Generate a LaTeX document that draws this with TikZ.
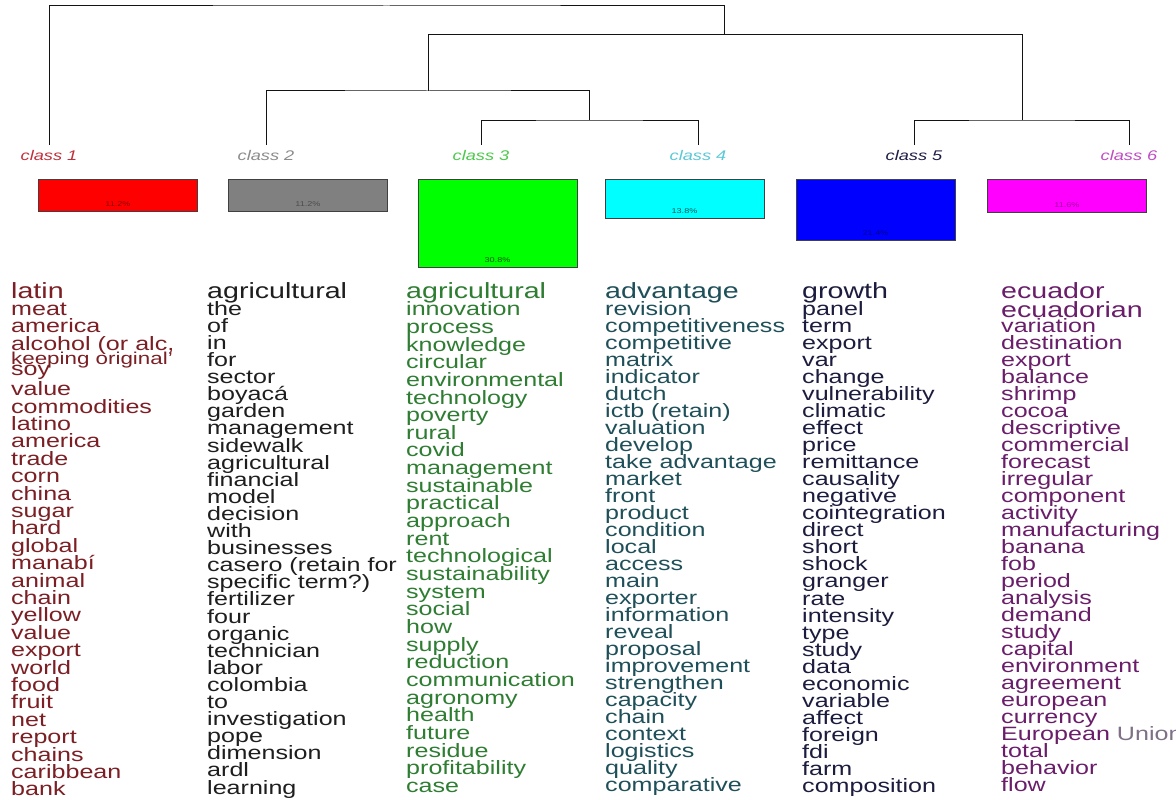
\documentclass[tikz,border=0pt]{standalone}
\usepackage{fontspec}
\setmainfont{Liberation Sans}[FakeStretch=1.3]
\usetikzlibrary{positioning}

\definecolor{lone}{HTML}{C0303C}
\definecolor{ltwo}{HTML}{8C8C8C}
\definecolor{lthree}{HTML}{4CC94C}
\definecolor{lfour}{HTML}{5BC8D8}
\definecolor{lfive}{HTML}{1E1E46}
\definecolor{lsix}{HTML}{C04CC4}
\definecolor{wone}{HTML}{7B1F24}
\definecolor{wtwo}{HTML}{1E1E1E}
\definecolor{wthree}{HTML}{2E7D32}
\definecolor{wfour}{HTML}{1F5059}
\definecolor{wfive}{HTML}{1C1C3E}
\definecolor{wsix}{HTML}{6A1E6A}
\definecolor{union}{HTML}{7F7087}
\definecolor{barred}{HTML}{FF0000}
\definecolor{bargray}{HTML}{808080}
\definecolor{barlime}{HTML}{00FF00}
\definecolor{barcyan}{HTML}{00FFFF}
\definecolor{barblue}{HTML}{0000FF}
\definecolor{barpink}{HTML}{FF00FF}

\newcommand{\wordfont}[1]{\fontsize{19.3}{#1}\selectfont\lineskiplimit=-\maxdimen}
\newcommand{\headword}[1]{{\fontsize{22}{17}\selectfont #1}}

\tikzset{
  cls/.style={anchor=base, font=\fontsize{14}{16}\selectfont\itshape, text=#1, inner sep=2pt, outer sep=3pt},
  bar/.style={draw=black!75, line width=1pt, fill=#1, minimum width=159pt, anchor=north, inner sep=0pt},
  pct/.style={font=\fontsize{7}{8}\selectfont, inner sep=0pt, text=#1},
  words/.style={anchor=north west, align=left, inner sep=0pt, text=#1},
  tree/.style={line width=1pt, gray!15!black}
}

\begin{document}
\begin{tikzpicture}[x=1pt,y=-1pt]
  \useasboundingbox (0,0) rectangle (1176,800);
  \fill[white] (0,0) rectangle (1176,800);

  % classes
  \node[cls=lone] (c1) at (49,160) {class 1};
  \node[cls=ltwo] (c2) at (266,160) {class 2};
  \node[cls=lthree] (c3) at (481,160) {class 3};
  \node[cls=lfour] (c4) at (698,160) {class 4};
  \node[cls=lfive] (c5) at (914,160) {class 5};
  \node[cls=lsix] (c6) at (1129,160) {class 6};

  \coordinate (j34) at (589,120);
  \coordinate (j56) at (1022,120);
  \coordinate (j234) at (428,91);
  \coordinate (j26) at (724,34.5);
  \coordinate (root) at (386.5,6);

  \begin{scope}[tree]
    \draw (c3.north) |- (j34) -| (c4.north);
    \draw (c5.north) |- (j56) -| (c6.north);
    \draw (c2.north) |- (j234) -| (j34);
    \draw (j234) |- (j26) -| (j56);
    \draw (c1.north) |- (root) -| (j26);
  \end{scope}

  % bars
  \node[bar=barred, minimum height=32pt] (b1) at (118,179) {};
  \node[bar=bargray, minimum height=32pt] (b2) at (308,179) {};
  \node[bar=barlime, minimum height=88pt] (b3) at (497.5,179) {};
  \node[bar=barcyan, minimum height=39.4pt] (b4) at (684.5,179) {};
  \node[bar=barblue, minimum height=61.1pt] (b5) at (875.5,179) {};
  \node[bar=barpink, minimum height=33.1pt] (b6) at (1067,179) {};

  \node[pct=barred!55!black, above=5.5pt of b1.south] (p1) {11.2\%};
  \node[pct=black!70, above=5.5pt of b2.south] (p2) {11.2\%};
  \node[pct=barlime!35!black, above=5.5pt of b3.south] (p3) {30.8\%};
  \node[pct=barcyan!35!black, above=5.5pt of b4.south] (p4) {13.8\%};
  \node[pct=barblue!55!black, above=5.5pt of b5.south] (p5) {21.4\%};
  \node[pct=barpink!65!black, above=5.5pt of b6.south] (p6) {11.6\%};

  % words
  \node[words=wone, font=\wordfont{17.4}] (w1) at (11,282) {\headword{latin}\\
    meat\\ america\\ alcohol (or alc,\\[-3pt]
    {\fontsize{17.2}{17}\selectfont keeping original'}\\[-6.4pt]
    soy\\[2.6pt] value\\ commodities\\ latino\\ america\\ trade\\ corn\\ china\\
    sugar\\ hard\\ global\\ manabí\\ animal\\ chain\\ yellow\\ value\\ export\\
    world\\ food\\ fruit\\ net\\ report\\ chains\\ caribbean\\ bank};
  \node[words=wtwo, font=\wordfont{17.1}] (w2) at (207,282) {\headword{agricultural}\\
    the\\ of\\ in\\ for\\ sector\\ boyacá\\ garden\\ management\\ sidewalk\\
    agricultural\\ financial\\ model\\ decision\\ with\\ businesses\\
    casero (retain for\\ specific term?)\\ fertilizer\\ four\\ organic\\
    technician\\ labor\\ colombia\\ to\\ investigation\\ pope\\ dimension\\ ardl\\ learning};
  \node[words=wthree, font=\wordfont{17.65}] (w3) at (406,282) {\headword{agricultural}\\
    innovation\\ process\\ knowledge\\ circular\\ environmental\\ technology\\
    poverty\\ rural\\ covid\\ management\\ sustainable\\ practical\\ approach\\
    rent\\ technological\\ sustainability\\ system\\ social\\ how\\ supply\\
    reduction\\ communication\\ agronomy\\ health\\ future\\ residue\\
    profitability\\ case};
  \node[words=wfour, font=\wordfont{17.0}] (w4) at (605,282) {\headword{advantage}\\
    revision\\ competitiveness\\ competitive\\ matrix\\ indicator\\ dutch\\
    ictb (retain)\\ valuation\\ develop\\ take advantage\\ market\\ front\\
    product\\ condition\\ local\\ access\\ main\\ exporter\\ information\\
    reveal\\ proposal\\ improvement\\ strengthen\\ capacity\\ chain\\ context\\
    logistics\\ quality\\ comparative};
  \node[words=wfive, font=\wordfont{17.05}] (w5) at (802,282) {\headword{growth}\\
    panel\\ term\\ export\\ var\\ change\\ vulnerability\\ climatic\\ effect\\
    price\\ remittance\\ causality\\ negative\\ cointegration\\ direct\\ short\\
    shock\\ granger\\ rate\\ intensity\\ type\\ study\\ data\\ economic\\
    variable\\ affect\\ foreign\\ fdi\\ farm\\ composition};
  \node[words=wsix, font=\wordfont{17.0}] (w6) at (1001,282) {\headword{ecuador}\\[2pt]
    \headword{ecuadorian}\\[-1.4pt]
    variation\\ destination\\ export\\ balance\\ shrimp\\ cocoa\\ descriptive\\
    commercial\\ forecast\\ irregular\\ component\\ activity\\ manufacturing\\
    banana\\ fob\\ period\\ analysis\\ demand\\ study\\ capital\\ environment\\
    agreement\\ european\\ currency\\ European {\color{union}Union}\\ total\\
    behavior\\ flow};
\end{tikzpicture}
\end{document}
